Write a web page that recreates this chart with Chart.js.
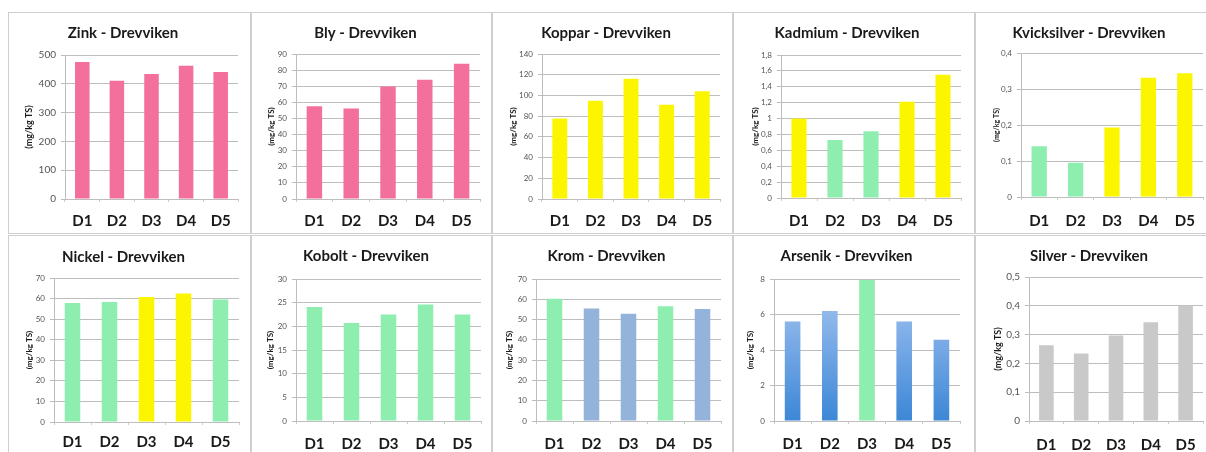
<!DOCTYPE html>
<html>
<head>
<meta charset="utf-8">
<script src="https://cdn.jsdelivr.net/npm/chart.js@4.4.1/dist/chart.umd.min.js"></script>
<style>
  html, body { margin: 0; padding: 0; background: #ffffff; }
  body { width: 1206px; height: 452px; position: relative; overflow: hidden; }
  .panel { position: absolute; box-sizing: border-box; border: 1px solid #cfcfcf; background: #ffffff; }
  .panel canvas { position: absolute; left: -1px; top: -1px; }
</style>
</head>
<body>
<script>
// ---------------- DATA ----------------
const categories = ['D1', 'D2', 'D3', 'D4', 'D5'];
const place = 'Drevviken';
const yAxisLabel = '(mg/kg TS)';

const metalNames = ['Zink', 'Bly', 'Koppar', 'Kadmium', 'Kvicksilver',
                    'Nickel', 'Kobolt', 'Krom', 'Arsenik', 'Silver'];

const zinkValues        = [476, 411, 434, 463, 441];
const blyValues         = [57.5, 56.2, 69.9, 74, 84];
const kopparValues      = [77.7, 94.8, 116, 91, 104];
const kadmiumValues     = [1.0, 0.73, 0.84, 1.21, 1.55];
const kvicksilverValues = [0.141, 0.095, 0.193, 0.331, 0.344];
const nickelValues      = [57.9, 58.3, 60.8, 62.5, 59.5];
const koboltValues      = [24.1, 20.7, 22.5, 24.6, 22.5];
const kromValues        = [60.3, 55.4, 52.9, 56.6, 55.2];
const arsenikValues     = [5.6, 6.2, 7.95, 5.6, 4.58];
const silverValues      = [0.263, 0.234, 0.297, 0.343, 0.401];

// status class of each bar (colour key)
const zinkClass        = ['pink', 'pink', 'pink', 'pink', 'pink'];
const blyClass         = ['pink', 'pink', 'pink', 'pink', 'pink'];
const kopparClass      = ['yellow', 'yellow', 'yellow', 'yellow', 'yellow'];
const kadmiumClass     = ['yellow', 'green', 'green', 'yellow', 'yellow'];
const kvicksilverClass = ['green', 'green', 'yellow', 'yellow', 'yellow'];
const nickelClass      = ['green', 'green', 'yellow', 'yellow', 'green'];
const koboltClass      = ['green', 'green', 'green', 'green', 'green'];
const kromClass        = ['green', 'blue', 'blue', 'green', 'blue'];
const arsenikClass     = ['bluegrad', 'bluegrad', 'green', 'bluegrad', 'bluegrad'];
const silverClass      = ['grey', 'grey', 'grey', 'grey', 'grey'];

// y-axis tick ranges (max, step)
const yMaxes  = [500, 90, 140, 1.8, 0.4, 70, 30, 70, 8, 0.5];
const ySteps  = [100, 10, 20, 0.2, 0.1, 10, 5, 10, 2, 0.1];

const allValues  = [zinkValues, blyValues, kopparValues, kadmiumValues, kvicksilverValues,
                    nickelValues, koboltValues, kromValues, arsenikValues, silverValues];
const allClasses = [zinkClass, blyClass, kopparClass, kadmiumClass, kvicksilverClass,
                    nickelClass, koboltClass, kromClass, arsenikClass, silverClass];

// ---------------- STYLE / LAYOUT ----------------
const palette = {
  pink: '#f2709b',
  yellow: '#fbf600',
  green: '#8eeeb0',
  blue: '#93b3da',
  grey: '#c9c9c9'
};

// panel rect [x, y, w, h], plot area [L, R, T, B], title cy, y-title cx, x-label cy, tick font, ytitle font
const layouts = [
  { r: [8, 12, 243, 222],   p: [65, 238, 55, 199],    tcy: 33,  ycx: 29,   xcy: 221, tf: 10, yf: 9 },
  { r: [251, 12, 241, 222], p: [296, 480, 54, 199],   tcy: 33,  ycx: 271,  xcy: 221, tf: 8,  yf: 8 },
  { r: [492, 12, 241, 222], p: [542, 720, 54, 199],   tcy: 33,  ycx: 513,  xcy: 221, tf: 8,  yf: 8 },
  { r: [733, 12, 242, 222], p: [781, 961, 55, 198],   tcy: 33,  ycx: 755,  xcy: 221, tf: 8,  yf: 8 },
  { r: [975, 12, 240, 222], p: [1021, 1203, 53, 197], tcy: 33,  ycx: 997,  xcy: 221, tf: 8,  yf: 7 },
  { r: [8, 235, 243, 220],  p: [54, 239, 278, 422],   tcy: 257, ycx: 29,   xcy: 442, tf: 8,  yf: 8 },
  { r: [251, 235, 241, 220], p: [296, 481, 279, 421], tcy: 256, ycx: 270,  xcy: 444, tf: 8,  yf: 8 },
  { r: [492, 235, 241, 220], p: [536, 721, 279, 421], tcy: 256, ycx: 509,  xcy: 444, tf: 8,  yf: 8 },
  { r: [733, 235, 242, 220], p: [774, 960, 279, 421], tcy: 256, ycx: 750,  xcy: 444, tf: 8,  yf: 8 },
  { r: [975, 235, 240, 220], p: [1029, 1203, 277, 421], tcy: 256, ycx: 998, xcy: 445, tf: 10, yf: 9 }
];

const FONT = 'Lato, "Open Sans", "Liberation Sans", sans-serif';
const gridColor = '#bdbdbd';

function fmt(v) {
  const r = Math.round(v * 1000) / 1000;
  return String(r).replace('.', ',');
}

function barColor(cls, ctx) {
  if (cls === 'bluegrad') {
    const area = ctx.chart.chartArea;
    if (!area) return '#6a9fe0';
    const g = ctx.chart.ctx.createLinearGradient(0, area.bottom, 0, area.top);
    g.addColorStop(0, '#3c87d6');
    g.addColorStop(0.55, '#79aae6');
    g.addColorStop(1, '#a9c9f0');
    return g;
  }
  return palette[cls];
}

metalNames.forEach((name, i) => {
  const L = layouts[i];
  const [px, py, w, h] = L.r;
  const [pl, pr, pt, pb] = L.p;
  const div = document.createElement('div');
  div.className = 'panel';
  div.style.left = px + 'px';
  div.style.top = py + 'px';
  div.style.width = w + 'px';
  div.style.height = h + 'px';
  const cv = document.createElement('canvas');
  cv.width = w; cv.height = h;
  cv.style.width = w + 'px'; cv.style.height = h + 'px';
  div.appendChild(cv);
  document.body.appendChild(div);

  const relL = pl - px, relR = pr - px, relT = pt - py, relB = pb - py;
  const titleSize = 15, titleLH = titleSize * 1.2;
  const tcy = L.tcy - py;
  const xSize = 15, xLH = xSize * 1.2;
  const xTick = 3;
  const xPad = Math.max(0, (L.xcy - py) - relB - xTick - xLH / 2);
  const yLH = L.yf * 1.2;
  const classes = allClasses[i];

  new Chart(cv, {
    type: 'bar',
    data: {
      labels: categories,
      datasets: [{
        data: allValues[i],
        backgroundColor: (ctx) => barColor(classes[ctx.dataIndex], ctx),
        borderWidth: 0,
        barPercentage: 0.42,
        categoryPercentage: 1.0
      }]
    },
    options: {
      responsive: false,
      devicePixelRatio: 1,
      animation: false,
      layout: { padding: { left: 0, right: w - relR, top: 0, bottom: 0 } },
      plugins: {
        legend: { display: false },
        tooltip: { enabled: false },
        title: {
          display: true,
          text: name + ' - ' + place,
          color: '#1a1a1a',
          font: { family: FONT, size: titleSize, weight: 'bold', lineHeight: 1.2 },
          padding: { top: tcy - titleLH / 2, bottom: relT - tcy - titleLH / 2 }
        }
      },
      scales: {
        x: {
          afterFit: (s) => { s.height = h - relB; },
          grid: { display: true, drawOnChartArea: false, drawTicks: true, tickLength: xTick, color: '#cccccc', offset: true },
          border: { display: true, color: gridColor, width: 1 },
          ticks: { color: '#1a1a1a', padding: xPad, font: { family: FONT, size: xSize, weight: 'bold', lineHeight: 1.2 } }
        },
        y: {
          min: 0,
          max: yMaxes[i],
          afterFit: (s) => { s.width = relL; },
          grid: { color: gridColor, lineWidth: 1, drawTicks: true, tickLength: 4 },
          border: { display: true, color: gridColor, width: 1 },
          ticks: {
            stepSize: ySteps[i],
            color: '#555555',
            padding: 5,
            font: { family: FONT, size: L.tf, lineHeight: 1.2 },
            callback: (v) => fmt(v)
          },
          title: {
            display: true,
            text: yAxisLabel,
            color: '#1a1a1a',
            font: { family: FONT, size: L.yf, weight: 'bold', lineHeight: 1.2 },
            padding: { top: Math.max(0, (L.ycx - px) - yLH / 2), bottom: 0 }
          }
        }
      }
    }
  });
});
</script>
</body>
</html>
